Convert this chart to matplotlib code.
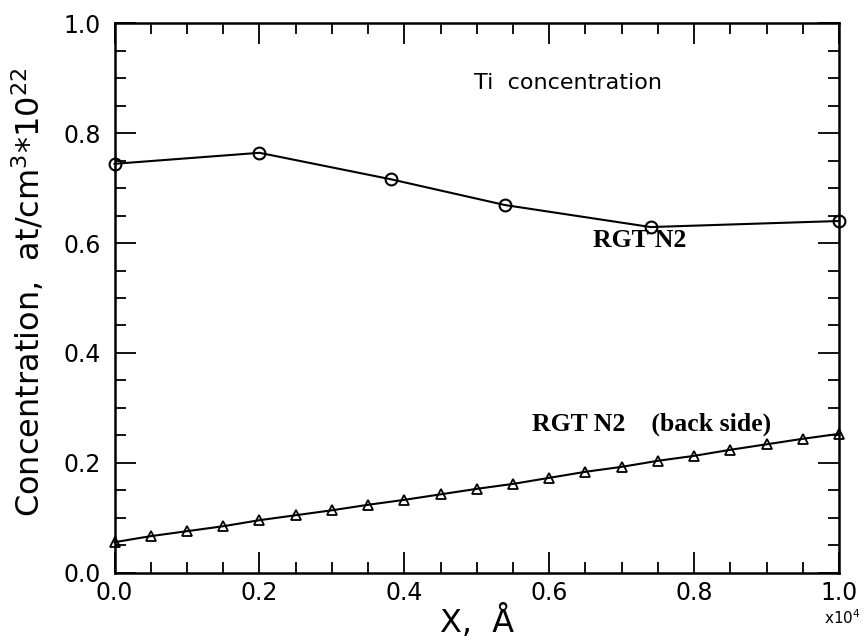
import numpy as np
import matplotlib
matplotlib.use('Agg')
import matplotlib.pyplot as plt
from matplotlib.ticker import MultipleLocator

# Ti concentration, RGT N2 (x in units of 1e4 Angstrom)
x_front = [0.0, 0.2, 0.381, 0.539, 0.740, 1.0]
y_front = [0.744, 0.764, 0.716, 0.669, 0.629, 0.640]

# RGT N2 back side
x_back = [0.0, 0.05, 0.10, 0.15, 0.20, 0.25, 0.30, 0.35, 0.40, 0.45, 0.50,
          0.55, 0.60, 0.65, 0.70, 0.75, 0.80, 0.85, 0.90, 0.95, 1.0]
y_back = [0.056, 0.067, 0.076, 0.085, 0.096, 0.105, 0.114, 0.124, 0.133, 0.143, 0.153,
          0.162, 0.173, 0.184, 0.193, 0.204, 0.213, 0.224, 0.234, 0.244, 0.253]

tick_labels = ['0.0', '0.2', '0.4', '0.6', '0.8', '1.0']
tick_pos = [0.0, 0.2, 0.4, 0.6, 0.8, 1.0]

tick_font = 'DejaVu Sans'
number_size = 17
label_size = 23

fig = plt.figure(figsize=(8.65, 6.41), dpi=100)
ax = fig.add_axes([0.1324, 0.1061, 0.8376, 0.858])

# data lines
ax.plot(x_front, y_front, color='black', lw=1.5, marker='o', ms=8.5,
        mfc='none', mec='black', mew=1.5, clip_on=False, zorder=3)
ax.plot(x_back, y_back, color='black', lw=1.5, marker='^', ms=6.5,
        mfc='none', mec='black', mew=1.3, clip_on=False, zorder=3)

ax.set_xlim(0, 1.0)
ax.set_ylim(0, 1.0)

# ticks, inward on all sides
ax.set_xticks(tick_pos)
ax.set_xticklabels(tick_labels, family=tick_font)
ax.set_yticks(tick_pos)
ax.set_yticklabels(tick_labels, family=tick_font)
ax.xaxis.set_minor_locator(MultipleLocator(0.05))
ax.yaxis.set_minor_locator(MultipleLocator(0.05))
ax.tick_params(which='both', direction='in', top=True, right=True, width=1.3,
               labelsize=number_size)
ax.tick_params(axis='y', which='major', pad=10)
ax.tick_params(axis='x', which='major', pad=6)
ax.tick_params(which='major', length=15)
ax.tick_params(which='minor', length=8)
for s in ax.spines.values():
    s.set_linewidth(1.8)

ax.set_ylabel(r'Concentration,  at/cm$^{3}$*10$^{22}$', fontsize=label_size,
              family=tick_font)
ax.yaxis.set_label_coords(-0.093, 0.51)
ax.set_xlabel('X,  Å', fontsize=label_size, family=tick_font, labelpad=0)

ax.text(1.005, -0.082, r'x10$^{4}$', transform=ax.transAxes, fontsize=11,
        family=tick_font, ha='center', va='center')

# annotations
ax.text(0.626, 0.891, 'Ti  concentration', transform=ax.transAxes, fontsize=16,
        family=tick_font, ha='center', va='center')
ax.text(0.725, 0.605, 'RGT N2', transform=ax.transAxes, fontsize=18.5,
        family='Liberation Serif', weight='bold', ha='center', va='center')
ax.text(0.741, 0.271, 'RGT N2    (back side)', transform=ax.transAxes, fontsize=18.5,
        family='Liberation Serif', weight='bold', ha='center', va='center')

fig.savefig('out.png', dpi=100)
